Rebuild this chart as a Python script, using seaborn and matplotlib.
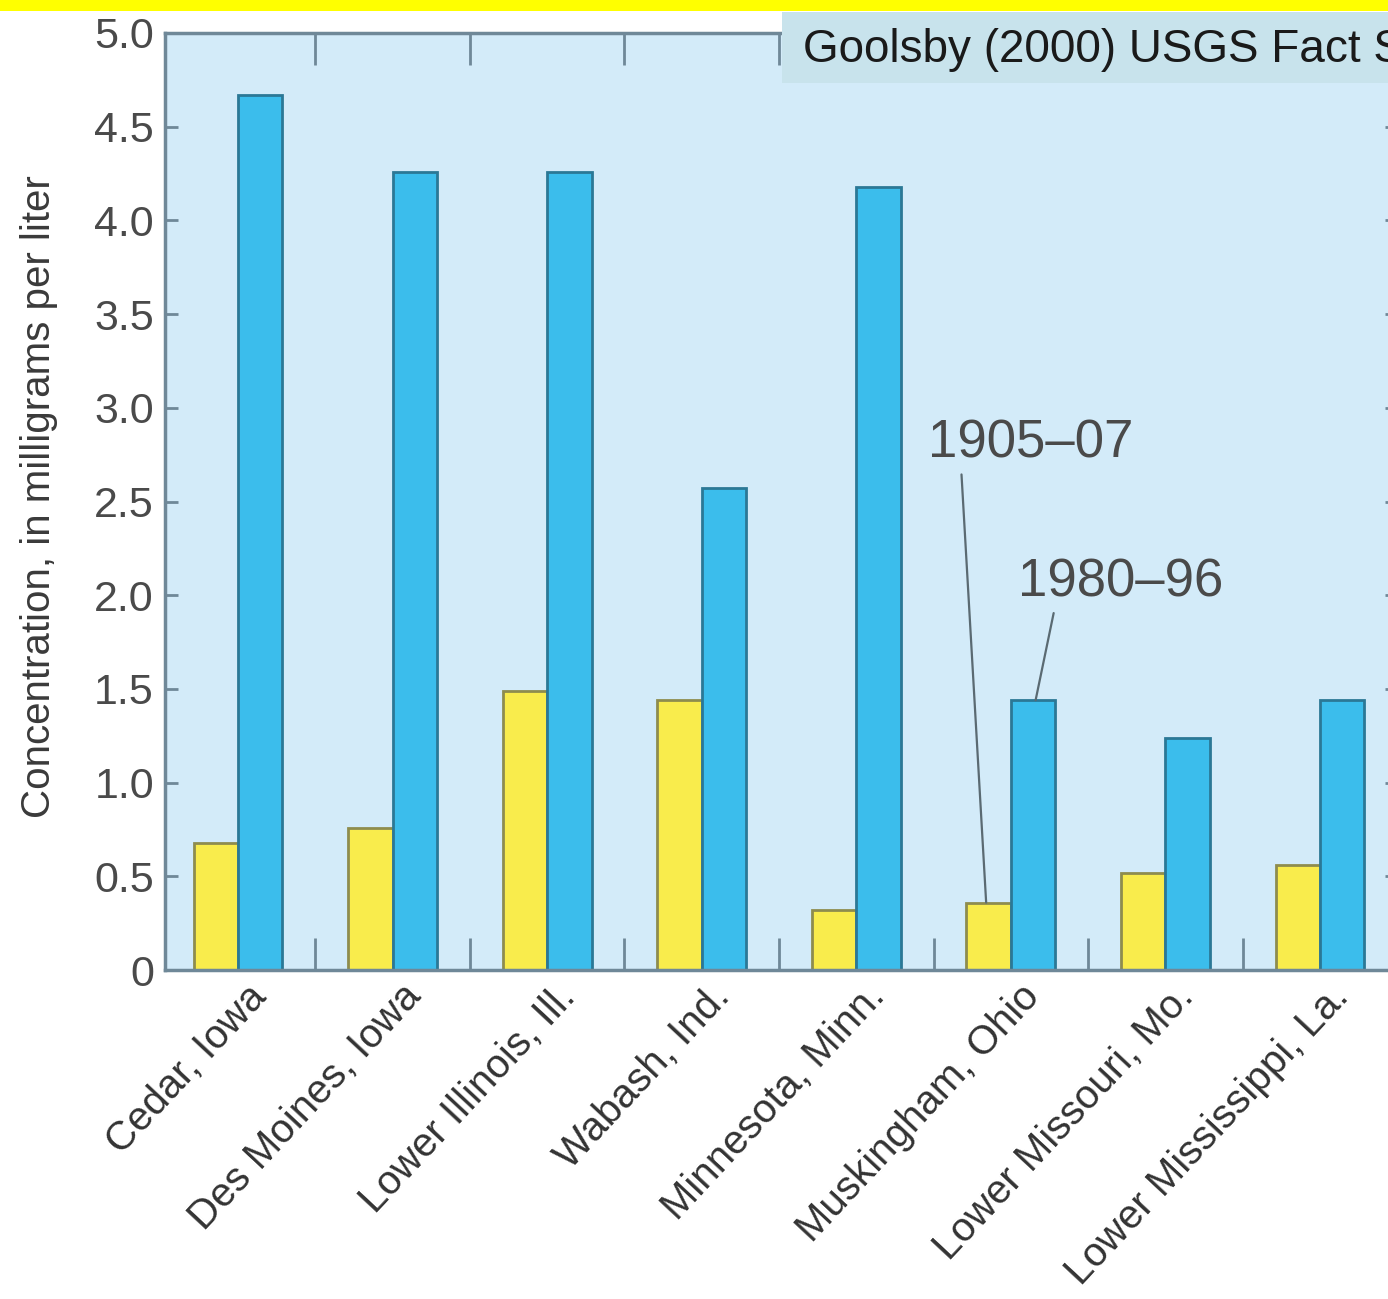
import matplotlib
matplotlib.use("Agg")
import matplotlib.pyplot as plt
import matplotlib.transforms as mtransforms
import seaborn as sns
import pandas as pd
from matplotlib.patches import Rectangle
from matplotlib.ticker import FixedLocator

sites = ["Cedar, Iowa", "Des Moines, Iowa", "Lower Illinois, Ill.", "Wabash, Ind.",
         "Minnesota, Minn.", "Muskingham, Ohio", "Lower Missouri, Mo.", "Lower Mississippi, La."]
periods = ["1905\u201307", "1980\u201396"]
early = [0.68, 0.76, 1.49, 1.44, 0.32, 0.36, 0.52, 0.56]
recent = [4.67, 4.26, 4.26, 2.57, 4.18, 1.44, 1.24, 1.44]
y_ticks = [0, 0.5, 1.0, 1.5, 2.0, 2.5, 3.0, 3.5, 4.0, 4.5, 5.0]
y_tick_labels = ["0", "0.5", "1.0", "1.5", "2.0", "2.5", "3.0", "3.5", "4.0", "4.5", "5.0"]
source_note = "Goolsby (2000) USGS Fact Sheet"

df = pd.DataFrame({
    "site": sites * 2,
    "period": [periods[0]] * len(sites) + [periods[1]] * len(sites),
    "conc": early + recent,
})

sns.set_theme(style="white")
plt.rcParams["font.family"] = ["Liberation Sans", "DejaVu Sans"]

W, H = 1388, 1299
fig = plt.figure(figsize=(W / 100, H / 100), dpi=100, facecolor="white")
ax = fig.add_axes([165 / W, 1 - 970 / H, (1397 - 165) / W, (970 - 33) / H])
ax.set_facecolor("#d3ebf9")

yellow, blue = "#f9ec4c", "#3bbdec"
sns.barplot(data=df, x="site", y="conc", hue="period", palette=[yellow, blue],
            width=0.575, saturation=1, legend=False, ax=ax, linewidth=2)
for cont, ec in zip(ax.containers, ["#8e8c4e", "#2b7896"]):
    for bar in cont:
        bar.set_edgecolor(ec)

ax.set_xlim(-0.4725, 7.498)
ax.set_ylim(0, 5.0)

spine_c = "#6f8898"
for s in ax.spines.values():
    s.set_color(spine_c)
    s.set_linewidth(2.5)

ax.set_yticks(y_ticks)
ax.set_yticklabels(y_tick_labels)
ax.tick_params(axis="y", direction="in", length=9, width=2, color=spine_c,
               left=True, right=True, labelsize=31, labelcolor="#4a4a4a", pad=8)

ax.xaxis.set_minor_locator(FixedLocator([i + 0.5 for i in range(len(sites) - 1)]))
ax.tick_params(axis="x", which="minor", direction="in", length=23, width=2,
               color=spine_c, bottom=True, top=True)
ax.tick_params(axis="x", which="major", length=0, pad=6)
ax.set_xticks(range(len(sites)))
ax.set_xticklabels(sites, rotation=47, ha="right", va="center",
                   rotation_mode="anchor", fontsize=29, color="#333333")
shift = mtransforms.ScaledTranslation(22 / 100, -12 / 100, fig.dpi_scale_trans)
for lab in ax.get_xticklabels():
    lab.set_transform(lab.get_transform() + shift)

ax.set_xlabel("")
ax.set_ylabel("Concentration, in milligrams per liter", fontsize=29,
              color="#3a3a3a")
ax.yaxis.set_label_coords(-(165 - 58) / (1397 - 165), 0.505)

line_c = "#5a6a72"
ax.annotate(periods[0], xy=(4.84, early[5]), xytext=(5.13, 2.81),
            fontsize=38, color="#4a4a4a", ha="center", va="center",
            arrowprops=dict(arrowstyle="-", color=line_c, lw=1.6,
                            shrinkA=2, shrinkB=0, relpos=(0.16, 0.0)))
ax.annotate(periods[1], xy=(5.16, recent[5]), xytext=(5.71, 2.07),
            fontsize=38, color="#4a4a4a", ha="center", va="center",
            arrowprops=dict(arrowstyle="-", color=line_c, lw=1.6,
                            shrinkA=2, shrinkB=0, relpos=(0.18, 0.0)))

# Yellow banner strip along the top edge
fig.patches.append(Rectangle((0, 1 - 11 / H), 1, 11 / H, transform=fig.transFigure,
                             facecolor="#ffff00", edgecolor="none", zorder=5))
# Source note box running off the right edge
fig.patches.append(Rectangle((782 / W, 1 - 83 / H), 1, (83 - 12) / H,
                             transform=fig.transFigure, facecolor="#c8e3ec",
                             edgecolor="none", zorder=5))
fig.text(803 / W, 1 - 50 / H, source_note, fontsize=33, color="#1a1a1a",
         ha="left", va="center", zorder=6)

fig.savefig("out.png", dpi=100, facecolor="white")
